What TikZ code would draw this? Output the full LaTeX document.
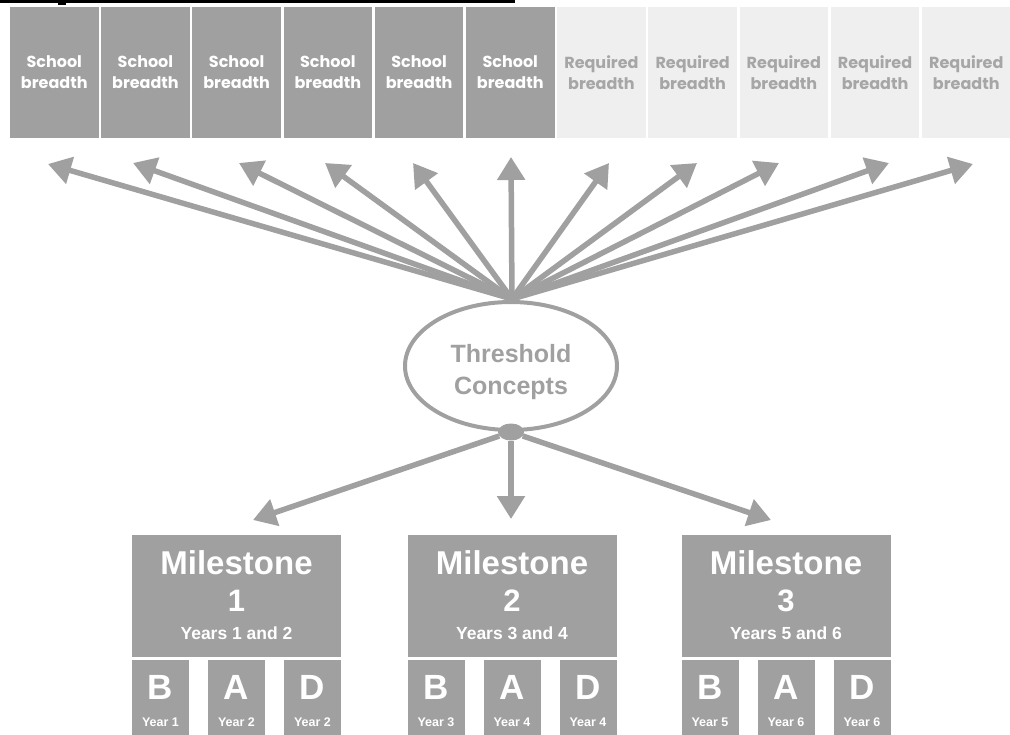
\documentclass[tikz,border=0pt]{standalone}
\usepackage{fontspec}
\setmainfont{Liberation Sans}
\newfontfamily\pop{Poppins}
\usetikzlibrary{arrows.meta,shapes.geometric}
\definecolor{dk}{HTML}{A0A0A0}
\definecolor{lt}{HTML}{EFEFEF}
\definecolor{lttext}{HTML}{A6A6A6}
\tikzset{
  topbox/.style={minimum width=88.5pt,minimum height=131pt,inner sep=0pt,align=center,
     font=\pop\bfseries\fontsize{16}{21}\selectfont},
  schoolbox/.style={topbox,fill=dk,text=white},
  reqbox/.style={topbox,fill=lt,text=lttext},
  arr/.style={draw=dk,line width=5.5pt,-{Triangle[length=23pt,width=27pt]}},
  msbox/.style={fill=dk,minimum width=209pt,minimum height=122pt,inner sep=0pt},
  subbox/.style={fill=dk,minimum width=57pt,minimum height=80pt,inner sep=0pt,anchor=north},
  wt/.style={text=white,font=\bfseries,inner sep=0pt}
}
\begin{document}
\begin{tikzpicture}[x=1pt,y=-1pt]
\useasboundingbox (0,0) rectangle (1010,735);
\fill[white] (0,0) rectangle (1010,735);
\fill[black] (0,0) rectangle (515,3.5);
\fill[black] (58,3) rectangle (66,5);
% top boxes
\foreach \i in {0,...,5}{
  \node[schoolbox] (b\i) at ({54.25+91.2*\i},72.5) {School\\breadth};
}
\foreach \i in {6,...,10}{
  \node[reqbox] (b\i) at ({54.25+91.2*\i},72.5) {Required\\breadth};
}
% threshold
\node[draw=dk,line width=4pt,ellipse,minimum width=212pt,minimum height=128pt] (tc) at (511,366) {};
\node[text=dk,align=center,inner sep=0pt,font=\bfseries\fontsize{25}{32}\selectfont] (tct) at (511,372) {Threshold\\Concepts};
\coordinate (o) at (512,299);
\node[fill=dk,ellipse,minimum width=26pt,minimum height=17pt,inner sep=0pt] (dot) at (511,432) {};
% tips
\coordinate (t0) at (48,164);
\coordinate (t1) at (133,163);
\coordinate (t2) at (239,163);
\coordinate (t3) at (325,163);
\coordinate (t4) at (413,163);
\coordinate (t5) at (511,157);
\coordinate (t6) at (609,163);
\coordinate (t7) at (697,163);
\coordinate (t8) at (779,163);
\coordinate (t9) at (889,163);
\coordinate (t10) at (973,164);
\foreach \i in {0,...,10}{
  \draw[arr] (o) -- (t\i);
}
% milestone boxes
\foreach \n/\x/\ya/\yb in {1/236.5/1/2,2/512/3/4,3/786/5/6}{
  \node[msbox] (m\n) at (\x,596) {};
  \node[wt,font=\bfseries\fontsize{33}{33}\selectfont] (mt\n) at (\x,563) {Milestone};
  \node[wt,font=\bfseries\fontsize{31}{31}\selectfont] (mn\n) at (\x,601) {\n};
  \node[wt,font=\bfseries\fontsize{17.5}{17.5}\selectfont] (my\n) at (\x,633) {Years \ya{} and \yb};
  \node[subbox] (sb\n) at (\x-76,660) {};
  \node[subbox] (sa\n) at (\x,660) {};
  \node[subbox] (sd\n) at (\x+76,660) {};
  \node[wt,font=\bfseries\fontsize{35}{35}\selectfont] at (\x-76,687) {B};
  \node[wt,font=\bfseries\fontsize{35}{35}\selectfont] at (\x,687) {A};
  \node[wt,font=\bfseries\fontsize{35}{35}\selectfont] at (\x+76,687) {D};
  \node[wt,font=\bfseries\fontsize{12.5}{12.5}\selectfont] at (\x-76,722) {Year \ya};
  \node[wt,font=\bfseries\fontsize{12.5}{12.5}\selectfont] at (\x,722) {Year \yb};
  \node[wt,font=\bfseries\fontsize{12.5}{12.5}\selectfont] at (\x+76,722) {Year \yb};
}
\coordinate (l1) at (253,520);
\coordinate (l2) at (511,519);
\coordinate (l3) at (771,520);
\draw[arr] (dot) -- (l1);
\draw[arr] (dot) -- (l2);
\draw[arr] (dot) -- (l3);
\end{tikzpicture}
\end{document}
